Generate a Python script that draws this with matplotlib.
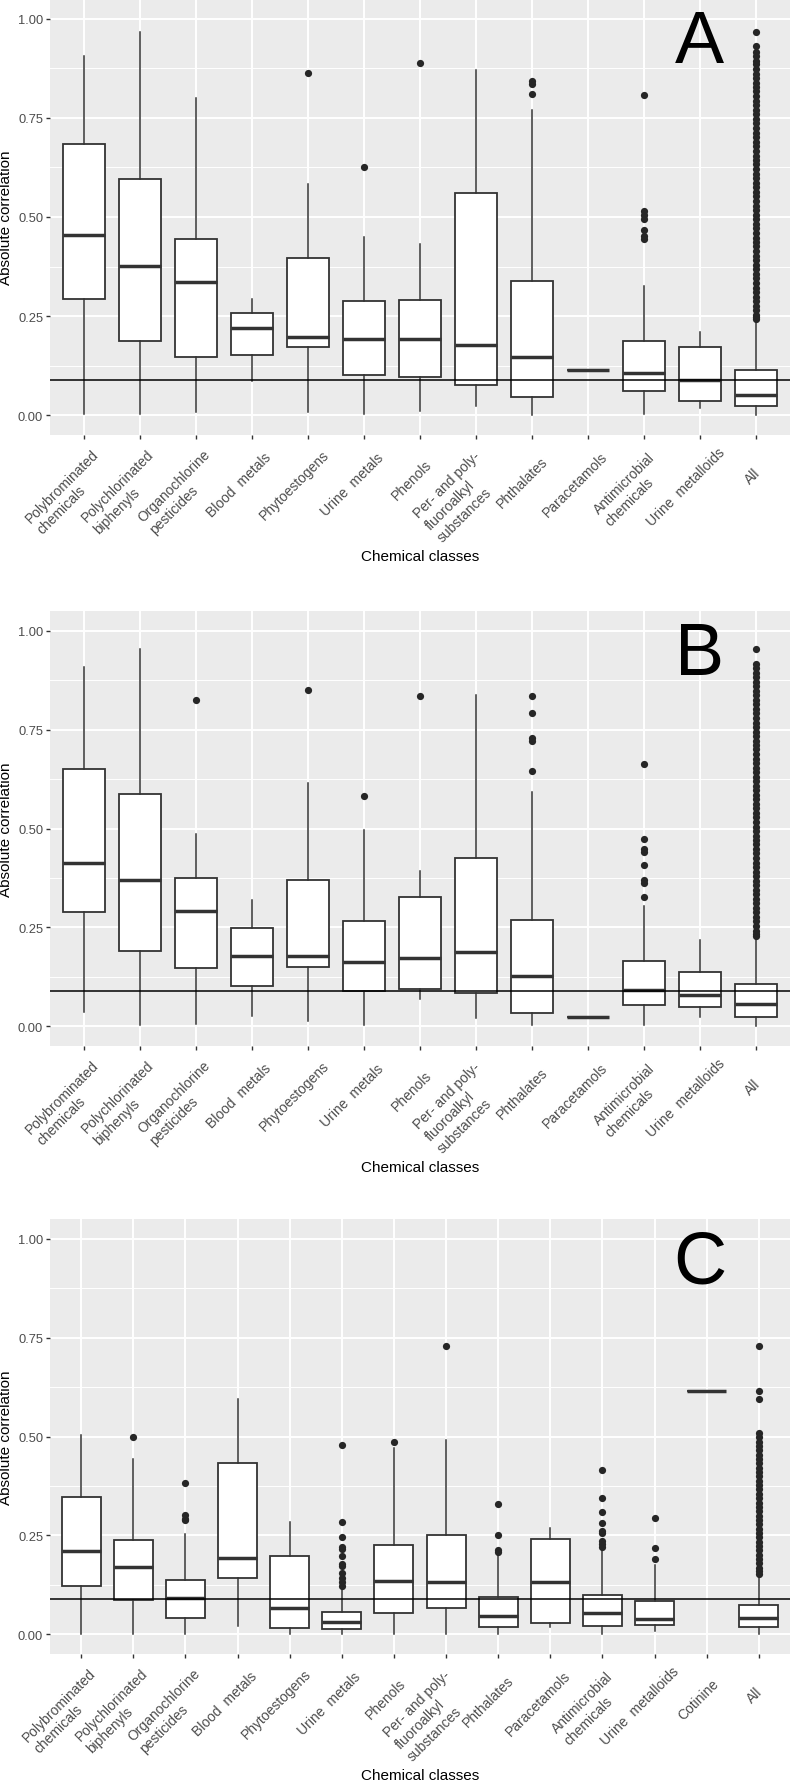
import matplotlib
matplotlib.use("Agg")
import matplotlib.pyplot as plt
import matplotlib.transforms as mtransforms

plt.rcParams['font.family'] = ['Liberation Sans', 'DejaVu Sans']

# category labels (C has an extra Cotinine class)
cats_ab = ["Polybrominated\nchemicals", "Polychlorinated\nbiphenyls",
           "Organochlorine\npesticides", "Blood  metals", "Phytoestogens",
           "Urine  metals", "Phenols", "Per- and poly-\nfluoroalkyl\nsubstances",
           "Phthalates", "Paracetamols", "Antimicrobial\nchemicals",
           "Urine  metalloids", "All"]
cats_c = cats_ab[:12] + ["Cotinine", "All"]

ref_line = 0.088

# ---- panel A ----
lo_a = [0.004, 0.004, 0.008, 0.086, 0.007, 0.004, 0.010, 0.023, 0.000, 0.114, 0.004, 0.017, 0.000]
q1_a = [0.294, 0.186, 0.147, 0.152, 0.171, 0.101, 0.097, 0.075, 0.047, 0.114, 0.060, 0.035, 0.023]
med_a = [0.454, 0.376, 0.337, 0.219, 0.196, 0.192, 0.191, 0.178, 0.148, 0.114, 0.106, 0.090, 0.052]
q3_a = [0.684, 0.597, 0.444, 0.257, 0.397, 0.289, 0.290, 0.561, 0.338, 0.114, 0.188, 0.171, 0.113]
hi_a = [0.907, 0.966, 0.800, 0.294, 0.584, 0.449, 0.433, 0.870, 0.771, 0.114, 0.327, 0.210, 0.241]
all_out_a = [0.966, 0.932, 0.916, 0.907, 0.894, 0.885, 0.874, 0.862, 0.851, 0.839, 0.828,
             0.817, 0.805, 0.793, 0.782, 0.771, 0.759, 0.748, 0.736, 0.724, 0.713, 0.702,
             0.690, 0.679, 0.667, 0.655, 0.644, 0.633, 0.621, 0.609, 0.598, 0.587, 0.575,
             0.563, 0.552, 0.541, 0.529, 0.518, 0.506, 0.494, 0.483, 0.472, 0.460, 0.448,
             0.437, 0.426, 0.414, 0.402, 0.391, 0.380, 0.368, 0.356, 0.345, 0.334, 0.322,
             0.310, 0.299, 0.288, 0.276, 0.265, 0.254, 0.247, 0.243]
out_a = [[], [], [], [], [0.864], [0.627], [0.889], [], [0.844, 0.835, 0.810], [],
         [0.808, 0.514, 0.505, 0.496, 0.468, 0.452, 0.445], [], all_out_a]

# ---- panel B ----
lo_b = [0.036, 0.003, 0.006, 0.026, 0.013, 0.003, 0.068, 0.020, 0.002, 0.024, 0.003, 0.024, 0.000]
q1_b = [0.290, 0.190, 0.148, 0.102, 0.150, 0.089, 0.093, 0.083, 0.034, 0.024, 0.054, 0.048, 0.024]
med_b = [0.414, 0.370, 0.292, 0.177, 0.177, 0.163, 0.172, 0.187, 0.127, 0.024, 0.091, 0.079, 0.055]
q3_b = [0.651, 0.586, 0.375, 0.248, 0.371, 0.266, 0.327, 0.426, 0.268, 0.024, 0.164, 0.137, 0.106]
hi_b = [0.909, 0.954, 0.485, 0.320, 0.614, 0.496, 0.392, 0.837, 0.592, 0.024, 0.304, 0.219, 0.224]
all_out_b = [0.954, 0.916, 0.905, 0.894, 0.882, 0.871, 0.860, 0.848, 0.837, 0.825, 0.814,
             0.802, 0.791, 0.780, 0.768, 0.757, 0.745, 0.734, 0.722, 0.711, 0.700, 0.688,
             0.677, 0.665, 0.654, 0.642, 0.631, 0.620, 0.608, 0.597, 0.585, 0.574, 0.562,
             0.551, 0.540, 0.528, 0.517, 0.505, 0.494, 0.482, 0.471, 0.460, 0.448, 0.437,
             0.425, 0.414, 0.402, 0.391, 0.380, 0.368, 0.357, 0.345, 0.334, 0.322, 0.311,
             0.300, 0.288, 0.277, 0.265, 0.254, 0.242, 0.233, 0.227]
out_b = [[], [], [0.824], [], [0.849], [0.583], [0.835], [],
         [0.835, 0.792, 0.730, 0.722, 0.645], [],
         [0.662, 0.473, 0.447, 0.441, 0.408, 0.371, 0.361, 0.328], [], all_out_b]

# ---- panel C ----
lo_c = [0.000, 0.000, 0.000, 0.022, 0.000, 0.000, 0.000, 0.000, 0.000, 0.019, 0.000, 0.007, 0.616, 0.000]
q1_c = [0.123, 0.087, 0.042, 0.143, 0.017, 0.014, 0.053, 0.066, 0.019, 0.028, 0.022, 0.024, 0.616, 0.018]
med_c = [0.210, 0.170, 0.092, 0.192, 0.067, 0.032, 0.134, 0.133, 0.045, 0.131, 0.053, 0.038, 0.616, 0.040]
q3_c = [0.346, 0.238, 0.138, 0.433, 0.197, 0.056, 0.225, 0.251, 0.093, 0.242, 0.100, 0.085, 0.616, 0.073]
hi_c = [0.505, 0.443, 0.253, 0.595, 0.284, 0.114, 0.470, 0.491, 0.202, 0.269, 0.213, 0.174, 0.616, 0.148]
all_out_c = [0.730, 0.616, 0.595, 0.509, 0.498, 0.487, 0.476, 0.465, 0.454, 0.443, 0.432,
             0.421, 0.410, 0.399, 0.388, 0.377, 0.366, 0.355, 0.344, 0.333, 0.322, 0.311,
             0.300, 0.289, 0.278, 0.267, 0.256, 0.245, 0.234, 0.223, 0.212, 0.201, 0.190,
             0.179, 0.168, 0.159, 0.153]
out_c = [[], [0.499], [0.383, 0.301, 0.292, 0.289], [], [],
         [0.478, 0.285, 0.247, 0.221, 0.215, 0.198, 0.177, 0.173, 0.156, 0.143, 0.132, 0.122],
         [0.485], [0.730], [0.329, 0.250, 0.214, 0.208], [],
         [0.415, 0.344, 0.309, 0.281, 0.261, 0.255, 0.236, 0.227, 0.221],
         [0.294, 0.217, 0.191], [], all_out_c]


def line_width_px(s, renderer):
    # width of an unrotated string at the tick label size
    t = fig.text(0, 0, s, fontsize=10)
    w = t.get_window_extent(renderer).width
    t.remove()
    return w


def draw_panel(ax, cats, lo, q1, med, q3, hi, outs, letter):
    n = len(cats)
    pos = list(range(1, n + 1))
    stats = []
    for i in range(n):
        stats.append(dict(whislo=lo[i], q1=q1[i], med=med[i], q3=q3[i],
                          whishi=hi[i], fliers=outs[i]))

    ax.set_facecolor('#EBEBEB')
    for s in ax.spines.values():
        s.set_visible(False)

    # ggplot-like grid
    ax.set_yticks([0, 0.25, 0.5, 0.75, 1.0])
    ax.set_yticks([0.125, 0.375, 0.625, 0.875], minor=True)
    ax.set_yticklabels(["0.00", "0.25", "0.50", "0.75", "1.00"])
    ax.grid(True, which='major', color='white', linewidth=1.4)
    ax.grid(True, which='minor', axis='y', color='white', linewidth=0.7)
    ax.tick_params(which='minor', length=0)
    ax.set_axisbelow(True)

    ax.bxp(stats, positions=pos, widths=0.75, showcaps=False, patch_artist=True,
           boxprops=dict(facecolor='white', edgecolor='#333333', linewidth=1.3),
           medianprops=dict(color='#333333', linewidth=2.5),
           whiskerprops=dict(color='#333333', linewidth=1.1),
           flierprops=dict(marker='o', markerfacecolor='#262626',
                           markeredgecolor='none', markersize=5.2))

    ax.axhline(ref_line, color='black', linewidth=1.1, zorder=5)

    ax.set_xlim(0.4, n + 0.6)
    ax.set_ylim(-0.05, 1.05)

    ax.set_xticks(pos)
    ax.set_xticklabels([""] * n)
    ax.tick_params(axis='both', which='major', color='#333333', length=2.9,
                   width=1, pad=2)
    ax.tick_params(axis='y', labelsize=9.3, labelcolor='#4D4D4D')

    # rotated category labels, anchored at the top-left of the first line
    renderer = fig.canvas.get_renderer()
    base = mtransforms.blended_transform_factory(ax.transData, ax.transAxes)
    for p, lab in zip(pos, cats):
        lines = lab.split("\n")
        L = line_width_px(lines[0], renderer)
        nl = len(lines)
        dx = -0.474 * L - 8 * (nl - 1) - 7.2
        dy = 41 + 0.474 * L - 7.2
        tr = base + mtransforms.ScaledTranslation(dx / 100, -dy / 100,
                                                  fig.dpi_scale_trans)
        ax.text(p, 0, lab, transform=tr, rotation=45, rotation_mode='anchor',
                ha='left', va='top', multialignment='left', fontsize=10,
                linespacing=1.25, color='#4D4D4D', clip_on=False)

    ax.set_xlabel("Chemical classes", fontsize=11)
    ax.xaxis.set_label_coords(0.5, -0.262)
    ax.set_ylabel("Absolute correlation", fontsize=11)
    ax.yaxis.set_label_coords(-0.05, 0.5)

    ax.text(0.878, 0.90, letter, transform=ax.transAxes, fontsize=53,
            ha='center', va='center', color='black')


fig = plt.figure(figsize=(7.92, 17.83), dpi=100)
W, H = 792.0, 1783.0
ax_a = fig.add_axes([50 / W, 1 - 436 / H, 740 / W, 436 / H])
ax_b = fig.add_axes([50 / W, 1 - 1047 / H, 740 / W, 435 / H])
ax_c = fig.add_axes([50 / W, 1 - 1655 / H, 740 / W, 435 / H])

draw_panel(ax_a, cats_ab, lo_a, q1_a, med_a, q3_a, hi_a, out_a, "A")
draw_panel(ax_b, cats_ab, lo_b, q1_b, med_b, q3_b, hi_b, out_b, "B")
draw_panel(ax_c, cats_c, lo_c, q1_c, med_c, q3_c, hi_c, out_c, "C")

fig.savefig("out.png", dpi=100)
